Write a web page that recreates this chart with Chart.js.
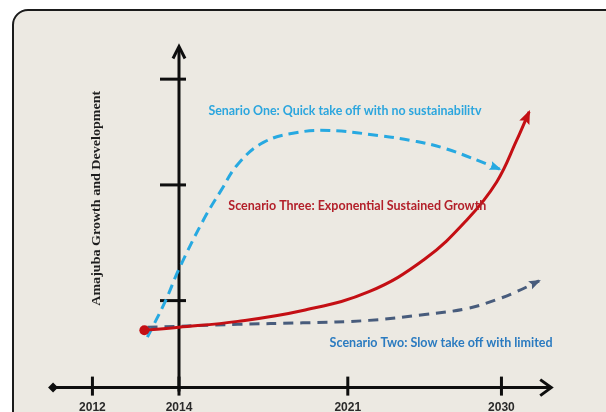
<!DOCTYPE html>
<html>
<head>
<meta charset="utf-8">
<script src="https://cdn.jsdelivr.net/npm/chart.js@4.4.1/dist/chart.umd.min.js"></script>
<style>
  html, body { margin: 0; padding: 0; width: 606px; height: 412px; overflow: hidden; background: #ffffff; }
  #panel {
    position: absolute; left: 12px; top: 9px; width: 660px; height: 470px;
    box-sizing: border-box; border: 2px solid #1b1b1b; border-radius: 16px; background: #ECE9E2;
  }
  #c { position: absolute; left: 0; top: 0; }
</style>
</head>
<body>
<div id="panel"></div>
<canvas id="c" width="606" height="428"></canvas>
<script>
// Year marks along the timeline (position along the horizontal axis, label)
const yearPositions = [0, 2, 5.9, 9.45];
const yearLabels = ['2012', '2014', '2021', '2030'];
// Levels marked on the growth axis
const growthTicks = [8.8, 20.5, 31.2];

const axisTitle = 'Amajuba Growth and Development';
const scenarioNames = [
  'Senario One: Quick take off with no sustainabilitv',
  'Scenario Two: Slow take off with limited',
  'Scenario Three: Exponential Sustained Growth'
];

// Scenario One: quick take off with no sustainability
const scenarioOneX = [1.27, 1.68, 2.0, 2.57, 2.98, 3.36, 3.95, 4.73, 5.48, 6.61, 7.36, 8.14, 9.41];
const scenarioOneY = [5.1, 8.7, 12.0, 17.0, 20.0, 22.6, 24.8, 25.8, 26.0, 25.5, 25.0, 24.2, 22.1];

// Scenario Two: slow take off with limited growth
const scenarioTwoX = [1.27, 3.36, 4.86, 6.39, 7.68, 8.66, 9.34, 9.8, 10.32];
const scenarioTwoY = [6.1, 6.4, 6.55, 6.8, 7.4, 8.0, 8.9, 9.7, 10.8];

// Scenario Three: exponential sustained growth
const scenarioThreeX = [1.2, 2.0, 3.36, 4.86, 6.39, 7.68, 8.66, 9.34, 9.8, 10.09];
const scenarioThreeY = [5.8, 6.1, 6.7, 7.8, 9.7, 13.0, 17.0, 20.8, 25.0, 27.9];

const toPoints = (xs, ys) => xs.map((x, i) => ({ x: x, y: ys[i] }));

const INK = '#0e0e0e';

// Axes drawn as arrows crossing at the 2014 mark
const arrowAxes = {
  id: 'arrowAxes',
  beforeDatasetsDraw(chart) {
    const { ctx, scales: { x, y } } = chart;
    const yb = y.getPixelForValue(0);
    const xl = x.getPixelForValue(-0.91);
    const xr = x.getPixelForValue(10.6);
    const xa = x.getPixelForValue(yearPositions[1]);
    const yt = y.getPixelForValue(34.5);
    ctx.save();
    ctx.strokeStyle = INK; ctx.fillStyle = INK;
    ctx.lineWidth = 3; ctx.lineCap = 'butt'; ctx.lineJoin = 'miter';
    // horizontal axis
    ctx.beginPath(); ctx.moveTo(xl, yb); ctx.lineTo(xr - 1, yb); ctx.stroke();
    ctx.beginPath();
    ctx.moveTo(xl - 5, yb); ctx.lineTo(xl, yb - 5); ctx.lineTo(xl + 5, yb); ctx.lineTo(xl, yb + 5);
    ctx.closePath(); ctx.fill();
    ctx.beginPath(); ctx.moveTo(xr - 11, yb - 8); ctx.lineTo(xr, yb); ctx.lineTo(xr - 11, yb + 8); ctx.stroke();
    yearPositions.forEach(p => {
      const px = x.getPixelForValue(p);
      ctx.beginPath(); ctx.moveTo(px, yb - 11); ctx.lineTo(px, yb + 8); ctx.stroke();
    });
    // vertical axis
    ctx.beginPath(); ctx.moveTo(xa, yb + 4); ctx.lineTo(xa, yt + 1); ctx.stroke();
    ctx.beginPath(); ctx.moveTo(xa - 6, yt + 12); ctx.lineTo(xa, yt); ctx.lineTo(xa + 6, yt + 12); ctx.stroke();
    growthTicks.forEach(t => {
      const py = y.getPixelForValue(t);
      ctx.beginPath(); ctx.moveTo(xa - 19, py); ctx.lineTo(xa + 7, py); ctx.stroke();
    });
    ctx.restore();
  }
};

function fittedText(ctx, text, px, py, font, color, width) {
  ctx.save();
  ctx.font = font;
  ctx.fillStyle = color;
  ctx.textAlign = 'left';
  ctx.textBaseline = 'middle';
  const w = ctx.measureText(text).width;
  ctx.translate(px, py);
  ctx.scale(width / w, 1);
  ctx.fillText(text, 0, 0);
  ctx.restore();
}

// Arrow heads on the curve ends, scenario captions and the growth axis title
const annotations = {
  id: 'annotations',
  afterDatasetsDraw(chart) {
    const { ctx, scales: { x, y } } = chart;
    chart.data.datasets.forEach((ds, i) => {
      const pts = chart.getDatasetMeta(i).data;
      const last = pts[pts.length - 1];
      let prev = pts[pts.length - 2];
      if (last.cp1x !== undefined && Math.hypot(last.x - last.cp1x, last.y - last.cp1y) > 1) {
        prev = { x: last.cp1x, y: last.cp1y };
      }
      const a = Math.atan2(last.y - prev.y, last.x - prev.x);
      const L = ds.headLength, W = ds.headWidth;
      ctx.save();
      ctx.fillStyle = ds.borderColor;
      ctx.translate(last.x, last.y);
      ctx.rotate(a);
      ctx.beginPath();
      ctx.moveTo(2, 0); ctx.lineTo(-L, -W); ctx.lineTo(-L * 0.8, 0); ctx.lineTo(-L, W);
      ctx.closePath(); ctx.fill();
      ctx.restore();
    });

    const notes = [
      { text: scenarioNames[0], u: 2.68, v: 28.0, color: '#2CA6DE', width: 273 },
      { text: scenarioNames[2], u: 3.14, v: 18.4, color: '#B3202A', width: 258 },
      { text: scenarioNames[1], u: 5.48, v: 4.5, color: '#2B7BC0', width: 223 }
    ];
    notes.forEach(n => fittedText(ctx, n.text, x.getPixelForValue(n.u), y.getPixelForValue(n.v),
      'bold 12.5px Lato', n.color, n.width));

    ctx.save();
    ctx.translate(x.getPixelForValue(0.1), y.getPixelForValue(19.1));
    ctx.rotate(-Math.PI / 2);
    fittedText(ctx, axisTitle, -107, 0, 'bold 13px "Liberation Serif"', '#1e1e1e', 215);
    ctx.restore();
  }
};

new Chart(document.getElementById('c'), {
  type: 'line',
  data: {
    datasets: [
      {
        label: scenarioNames[2],
        data: toPoints(scenarioThreeX, scenarioThreeY),
        borderColor: '#C40F14',
        borderWidth: 3,
        tension: 0.4,
        pointRadius: c => (c.dataIndex === 0 ? 5 : 0),
        pointBackgroundColor: '#C40F14',
        pointBorderWidth: 0,
        fill: false,
        headLength: 12, headWidth: 5.5
      },
      {
        label: scenarioNames[0],
        data: toPoints(scenarioOneX, scenarioOneY),
        borderColor: '#27A9E1',
        borderWidth: 3,
        borderDash: [10, 6],
        tension: 0.4,
        pointRadius: 0,
        fill: false,
        headLength: 10, headWidth: 4.5
      },
      {
        label: scenarioNames[1],
        data: toPoints(scenarioTwoX, scenarioTwoY),
        borderColor: '#485C7C',
        borderWidth: 3,
        borderDash: [10, 7],
        tension: 0.4,
        pointRadius: 0,
        fill: false,
        headLength: 10, headWidth: 4.5
      }
    ]
  },
  options: {
    responsive: false,
    animation: false,
    devicePixelRatio: 1,
    events: [],
    layout: { padding: 0 },
    plugins: { legend: { display: false }, tooltip: { enabled: false } },
    scales: {
      x: {
        type: 'linear',
        min: -2.02,
        max: 11.75,
        afterBuildTicks: scale => { scale.ticks = yearPositions.map(v => ({ value: v })); },
        ticks: {
          autoSkip: false,
          maxRotation: 0,
          padding: 13,
          color: '#2a2a2a',
          font: { family: '"Liberation Sans"', size: 12, weight: 'bold' },
          callback: (value, index) => yearLabels[index]
        },
        grid: { display: false, drawTicks: false },
        border: { display: false }
      },
      y: { type: 'linear', display: false, min: 0, max: 38.7 }
    }
  },
  plugins: [arrowAxes, annotations]
});
</script>
</body>
</html>
